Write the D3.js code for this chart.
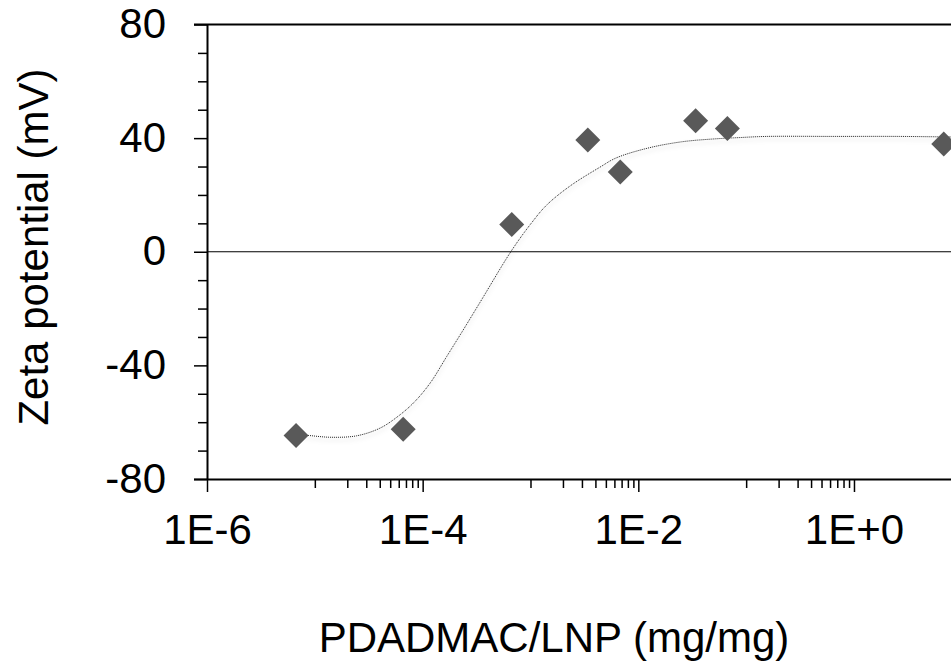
<!DOCTYPE html>
<html>
<head>
<meta charset="utf-8">
<script src="https://cdn.jsdelivr.net/npm/d3@7/dist/d3.min.js"></script>
<style>
  html, body { margin: 0; padding: 0; background: #fff; overflow: hidden; }
  svg { display: block; font-family: "Liberation Sans", Arial, sans-serif; }
</style>
</head>
<body>
<svg id="chart" width="951" height="669"></svg>
<script>
// ---- data ----
const pointX = [6.7e-6, 6.6e-5, 6.7e-4, 3.4e-3, 6.8e-3, 3.4e-2, 6.7e-2, 6.8];
const pointY = [-64.7, -62.5, 9.6, 39.3, 28.1, 46.1, 43.4, 37.9];

// fitted trend curve
const curveX = [6.7e-6, 8.1e-6, 1.38e-5, 2.44e-5, 4.02e-5, 5.74e-5, 8.18e-5, 1.17e-4, 1.67e-4, 2.38e-4,
                3.52e-4, 6.7e-4, 1.02e-3, 1.41e-3, 2.32e-3, 4.42e-3, 6.21e-3, 1.23e-2,
                2.52e-2, 4.95e-2, 8.77e-2, 0.155, 0.638, 2.67, 7.94];
const curveY = [-64.7, -64.6, -65.3, -64.8, -62.1, -58.3, -53.3, -46.3, -36.9, -27.5,
                -16.9, 0.5, 10.1, 16.4, 23.1, 29.8, 33.0, 36.5,
                38.7, 39.7, 40.2, 40.6, 40.6, 40.6, 40.4];

const yMajor = [-80, -40, 0, 40, 80];
const yMinor = [-70, -60, -50, -30, -20, -10, 10, 20, 30, 50, 60, 70];
const xMajor = [1e-6, 1e-4, 1e-2, 1e0];
const xTickLabels = ["1E-6", "1E-4", "1E-2", "1E+0"];
const xMinorMultipliers = [1, 2, 3, 4, 5, 6, 7, 8, 9];

const xTitle = "PDADMAC/LNP (mg/mg)";
const yTitle = "Zeta potential (mV)";

// ---- layout ----
const svg = d3.select("#chart");
const plotLeft = 207, plotTop = 24.5, plotBottom = 479;
const decade = 107.83;
const plotRight = plotLeft + 7 * decade;

const x = d3.scaleLog().domain([1e-6, 1e1]).range([plotLeft, plotRight]);
const y = d3.scaleLinear().domain([-80, 80]).range([plotBottom, plotTop]);

// minor x ticks: k * 10^(d+1) for each major d
const xMinor = [];
xMajor.forEach(m => xMinorMultipliers.forEach(k => {
  const v = k * m * 10;
  if (v < 1e1 && !xMajor.includes(v)) xMinor.push(v);
}));

// defs: shadow for the trend line
const defs = svg.append("defs");
const f = defs.append("filter").attr("id", "shadow").attr("x", "-5%").attr("y", "-10%").attr("width", "110%").attr("height", "130%");
f.append("feDropShadow").attr("dx", 0).attr("dy", 3).attr("stdDeviation", 2)
  .attr("flood-color", "#000").attr("flood-opacity", 0.25);

// top frame line
svg.append("line")
  .attr("x1", plotLeft - 13).attr("x2", plotRight).attr("y1", y(80)).attr("y2", y(80))
  .attr("stroke", "#000").attr("stroke-width", 2);

// zero line
svg.append("line")
  .attr("x1", plotLeft).attr("x2", plotRight).attr("y1", y(0)).attr("y2", y(0))
  .attr("stroke", "#000").attr("stroke-width", 1);

// trend curve
const line = d3.line()
  .x(d => x(d[0])).y(d => y(d[1]))
  .curve(d3.curveCatmullRom.alpha(0.5));
svg.append("path")
  .datum(curveX.map((v, i) => [v, curveY[i]]))
  .attr("d", line)
  .attr("fill", "none")
  .attr("stroke", "#222")
  .attr("stroke-width", 1)
  .attr("stroke-dasharray", "1,1")
  .attr("filter", "url(#shadow)");

// points (diamonds)
svg.append("g").selectAll("path")
  .data(pointX.map((v, i) => [v, pointY[i]]))
  .join("path")
  .attr("d", d3.symbol().type(d3.symbolSquare).size(312))
  .attr("transform", d => `translate(${x(d[0])},${y(d[1])}) rotate(45)`)
  .attr("fill", "#595959");

// y minor ticks
const yMinorAxis = svg.append("g").attr("transform", `translate(${plotLeft},0)`)
  .call(d3.axisLeft(y).tickValues(yMinor).tickSize(9).tickSizeOuter(0).tickFormat(""));
yMinorAxis.select(".domain").remove();
yMinorAxis.selectAll("line").attr("stroke-width", 1.5);

// y major axis
const yAxis = svg.append("g").attr("transform", `translate(${plotLeft},0)`)
  .call(d3.axisLeft(y).tickValues(yMajor).tickSize(13).tickSizeOuter(0).tickPadding(28)
    .tickFormat(d => String(d)));
yAxis.select(".domain").attr("stroke-width", 2);
yAxis.selectAll(".tick line").attr("stroke-width", 1.5);
yAxis.selectAll("text").attr("font-size", 42).attr("fill", "#000")
  .attr("font-family", "'Liberation Sans', Arial, sans-serif").attr("dy", "0.31em");

// x minor ticks
const xMinorAxis = svg.append("g").attr("transform", `translate(0,${plotBottom})`)
  .call(d3.axisBottom(x).tickValues(xMinor).tickSize(9).tickSizeOuter(0).tickFormat(""));
xMinorAxis.select(".domain").remove();
xMinorAxis.selectAll("line").attr("stroke-width", 1.5);

// x major axis
const xAxis = svg.append("g").attr("transform", `translate(0,${plotBottom})`)
  .call(d3.axisBottom(x).tickValues(xMajor).tickSize(13).tickSizeOuter(0)
    .tickFormat((d, i) => xTickLabels[i]));
xAxis.select(".domain").attr("stroke-width", 2).attr("d", `M${plotLeft - 13},0.5H${plotRight}`);
xAxis.selectAll(".tick line").attr("stroke-width", 1.5);
xAxis.selectAll("text").attr("font-size", 42).attr("fill", "#000")
  .attr("font-family", "'Liberation Sans', Arial, sans-serif")
  .attr("y", 65).attr("dy", 0);

// axis titles
svg.append("text")
  .attr("x", 554).attr("y", 652)
  .attr("text-anchor", "middle")
  .attr("font-size", 42)
  .attr("fill", "#000")
  .text(xTitle);

svg.append("text")
  .attr("transform", `translate(48,247) rotate(-90)`)
  .attr("text-anchor", "middle")
  .attr("font-size", 42)
  .attr("fill", "#000")
  .text(yTitle);
</script>
</body>
</html>
